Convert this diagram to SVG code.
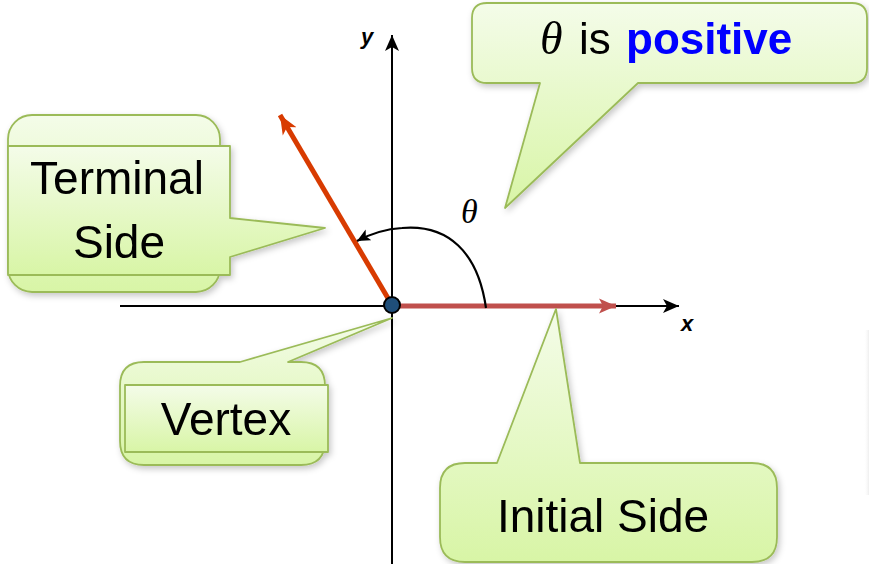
<svg xmlns="http://www.w3.org/2000/svg" width="869" height="564" viewBox="0 0 869 564">
  <defs>
    <linearGradient id="calloutFill" x1="0" y1="0" x2="0" y2="1">
      <stop offset="0" stop-color="#f4fce9"/>
      <stop offset="1" stop-color="#d8f5a6"/>
    </linearGradient>
    <filter id="softShadow" x="-10%" y="-10%" width="125%" height="130%">
      <feDropShadow dx="2" dy="3" stdDeviation="3" flood-color="#000" flood-opacity="0.22"/>
    </filter>
    <linearGradient id="edgeShade" x1="0" y1="0" x2="1" y2="0">
      <stop offset="0" stop-color="#ffffff" stop-opacity="0"/>
      <stop offset="1" stop-color="#eeeeee"/>
    </linearGradient>
    <marker id="axisHead" markerUnits="userSpaceOnUse" markerWidth="20" markerHeight="20" refX="16" refY="8" orient="auto">
      <path d="M0,1 L16,8 L0,15 L4,8 Z" fill="#000"/>
    </marker>
    <marker id="redHead" markerUnits="userSpaceOnUse" markerWidth="22" markerHeight="20" refX="17" refY="8" orient="auto">
      <path d="M0,0.5 L17,8 L0,15.5 L4,8 Z" fill="#c0504d"/>
    </marker>
    <marker id="termHead" markerUnits="userSpaceOnUse" markerWidth="24" markerHeight="22" refX="19" refY="9" orient="auto">
      <path d="M0,1 L19,9 L0,17 L5,9 Z" fill="#d83b01"/>
    </marker>
    <marker id="arcHead" markerUnits="userSpaceOnUse" markerWidth="18" markerHeight="16" refX="13" refY="7" orient="auto">
      <path d="M0,1 L13,7 L0,13 L3,7 Z" fill="#000"/>
    </marker>
  </defs>
  <style>
    .callout { fill: url(#calloutFill); stroke: #9bbb59; stroke-width: 1.8; stroke-linejoin: round; }
    .label { font-family: "Liberation Sans", Arial, sans-serif; font-size: 46px; fill: #000; text-anchor: middle; }
    .axisLabel { font-family: "Liberation Sans", Arial, sans-serif; font-size: 22px; font-weight: bold; font-style: italic; fill: #000; }
    .greek { font-family: "Liberation Serif", "Times New Roman", serif; font-style: italic; fill: #000; }
    .axis { stroke: #000; stroke-width: 2; fill: none; }
  </style>

  <rect width="869" height="564" fill="#ffffff"/>
  <!-- shade at the right edge -->
  <rect x="864" y="330" width="5" height="165" fill="url(#edgeShade)"/>

  <!-- coordinate axes -->
  <g id="axes">
    <line class="axis" x1="120" y1="306" x2="679" y2="306" marker-end="url(#axisHead)"/>
    <line class="axis" x1="392" y1="564" x2="392" y2="35" marker-end="url(#axisHead)"/>
    <text class="axisLabel" x="681" y="331">x</text>
    <text class="axisLabel" x="361" y="44">y</text>
  </g>

  <!-- sides of the angle and the rotation arc -->
  <g id="connectors">
    <line x1="392" y1="306" x2="616" y2="306" stroke="#c0504d" stroke-width="5" marker-end="url(#redHead)"/>
    <line x1="392" y1="305" x2="280" y2="115" stroke="#d83b01" stroke-width="5" marker-end="url(#termHead)"/>
    <path d="M486,308 C478,252 448,224 402,228 C386,229 372,233 357,241" fill="none" stroke="#000" stroke-width="2.2" marker-end="url(#arcHead)"/>
    <text class="greek" x="461" y="223" font-size="34">θ</text>
  </g>

  <!-- callout: theta is positive -->
  <g id="callout-positive" filter="url(#softShadow)">
    <path class="callout" d="M487,3 H852 Q867,3 867,18 V68 Q867,83 852,83 H638 L505,208 L540,83 H487 Q472,83 472,68 V18 Q472,3 487,3 Z"/>
    <text y="54" font-size="44"><tspan class="greek" x="540" font-size="46">θ</tspan><tspan x="579" font-family="Liberation Sans, Arial, sans-serif" fill="#000">is</tspan><tspan x="626" font-family="Liberation Sans, Arial, sans-serif" font-weight="bold" fill="#0000ff">positive</tspan></text>
  </g>

  <!-- callout: terminal side -->
  <g id="callout-terminal" filter="url(#softShadow)">
    <rect class="callout" x="8" y="115" width="212" height="177" rx="24" ry="24"/>
    <path class="callout" d="M8,146 H230 V218 L325,228 L230,257 V275 H8 Z"/>
    <text class="label" x="117" y="194">Terminal</text>
    <text class="label" x="119" y="258">Side</text>
  </g>

  <!-- callout: vertex -->
  <g id="callout-vertex" filter="url(#softShadow)">
    <path class="callout" d="M144,362 H240 L392,318 L288,362 H301 Q325,362 325,386 V441 Q325,465 301,465 H144 Q120,465 120,441 V386 Q120,362 144,362 Z"/>
    <rect class="callout" x="125" y="385" width="203" height="67"/>
    <text class="label" x="226" y="435">Vertex</text>
  </g>

  <!-- callout: initial side -->
  <g id="callout-initial" filter="url(#softShadow)">
    <path class="callout" d="M465,463 H497 L556,309 L580,463 H752 Q777,463 777,488 V537 Q777,562 752,562 H465 Q440,562 440,537 V488 Q440,463 465,463 Z"/>
    <text class="label" x="603" y="532">Initial Side</text>
  </g>

  <!-- vertex point -->
  <g id="vertex-point">
    <circle cx="392" cy="305" r="8" fill="#1f4e79" stroke="#000" stroke-width="2"/>
  </g>
</svg>
